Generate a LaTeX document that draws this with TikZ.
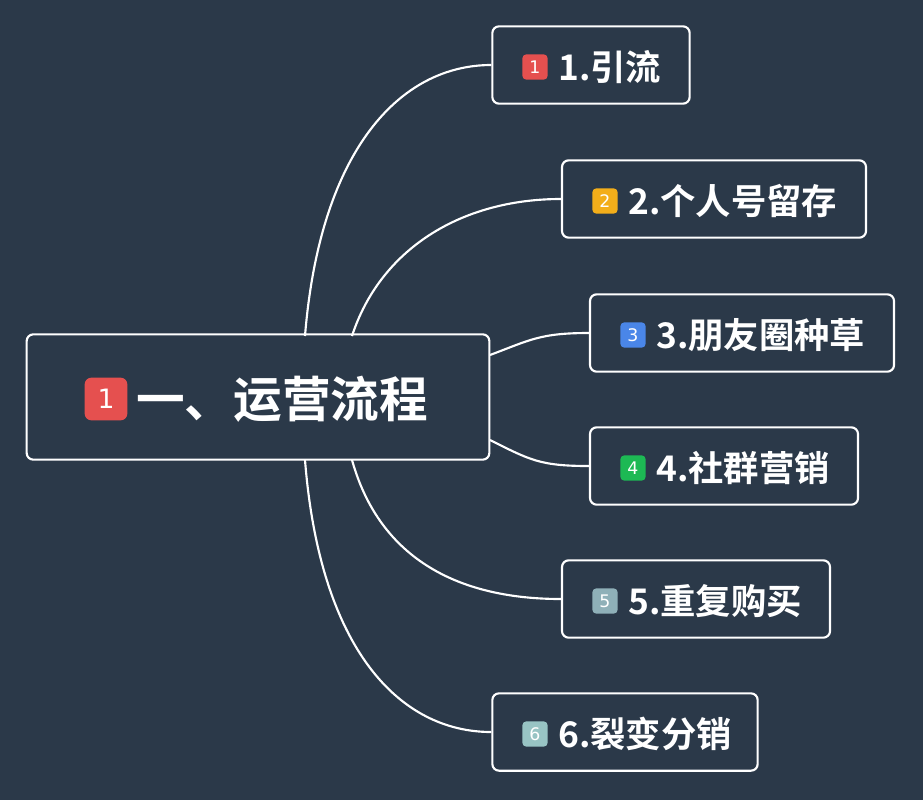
\documentclass[tikz,border=0pt]{standalone}
\usepackage{fontspec}
\newfontfamily\cjk{Noto Sans CJK SC Bold}
\newfontfamily\dig{DejaVu Sans}
\definecolor{bg}{HTML}{2B3949}
\definecolor{b1}{HTML}{E5504F}
\definecolor{b2}{HTML}{F3AE1A}
\definecolor{b3}{HTML}{4A86E8}
\definecolor{b4}{HTML}{1DB954}
\definecolor{b5}{HTML}{8FB0B8}
\definecolor{b6}{HTML}{98C4C4}
\begin{document}
\begin{tikzpicture}[x=0.75pt,y=-0.75pt,
  box/.style={draw=white,line width=1.6pt,rounded corners=5pt,fill=bg,inner sep=0pt},
  lbl/.style={text=white,font=\cjk\fontsize{26.5}{28}\selectfont,anchor=west,inner sep=0pt},
  badge/.style={fill=#1,rounded corners=3pt,minimum width=19pt,minimum height=19pt,inner sep=0pt,text=white,font=\dig\fontsize{13}{13}\selectfont},
  link/.style={draw=white,line width=1.6pt}]
\fill[bg] (0,0) rectangle (923,800);
\useasboundingbox (0,0) rectangle (923,800);
% root
\node[box,minimum width=347pt,minimum height=94pt] (r) at (258,397) {};
\node[badge=b1,minimum width=32pt,minimum height=32pt,rounded corners=5pt,font=\dig\fontsize{20}{20}\selectfont] (rb) at (106,399) {1};
\node[lbl,font=\cjk\fontsize{36.5}{38}\selectfont] (rt) at (136,399) {一、运营流程};
% children
\node[box,minimum width=148pt,minimum height=58pt] (c1) at (591,65) {};
\node[box,minimum width=228pt,minimum height=58pt] (c2) at (714,199) {};
\node[box,minimum width=228pt,minimum height=58pt] (c3) at (742,333) {};
\node[box,minimum width=201pt,minimum height=58pt] (c4) at (724,466) {};
\node[box,minimum width=201pt,minimum height=58pt] (c5) at (696,599) {};
\node[box,minimum width=199pt,minimum height=58pt] (c6) at (625,732) {};
\node[badge=b1] (d1) at (535,67) {1}; \node[lbl] (t1) at (558,67) {1.引流};
\node[badge=b2] (d2) at (605,201) {2}; \node[lbl] (t2) at (628,201) {2.个人号留存};
\node[badge=b3] (d3) at (633,335) {3}; \node[lbl] (t3) at (656,335) {3.朋友圈种草};
\node[badge=b4] (d4) at (633,468) {4}; \node[lbl] (t4) at (656,468) {4.社群营销};
\node[badge=b5] (d5) at (605,601) {5}; \node[lbl] (t5) at (628,601) {5.重复购买};
\node[badge=b6] (d6) at (535,734) {6}; \node[lbl] (t6) at (558,734) {6.裂变分销};
% connectors
\coordinate (s1) at (305,336); \coordinate (s2) at (352,336);
\coordinate (s3) at (490,355); \coordinate (s4) at (490,440);
\coordinate (s5) at (352,460); \coordinate (s6) at (305,460);
\draw[link] (s1) .. controls (320,150) and (400,65) .. (c1.west);
\draw[link] (s2) .. controls (380,250) and (460,199) .. (c2.west);
\draw[link] (s3) .. controls (530,340) and (540,333) .. (c3.west);
\draw[link] (s4) .. controls (530,460) and (540,466) .. (c4.west);
\draw[link] (s5) .. controls (380,560) and (460,599) .. (c5.west);
\draw[link] (s6) .. controls (320,650) and (400,732) .. (c6.west);
\end{tikzpicture}
\end{document}
